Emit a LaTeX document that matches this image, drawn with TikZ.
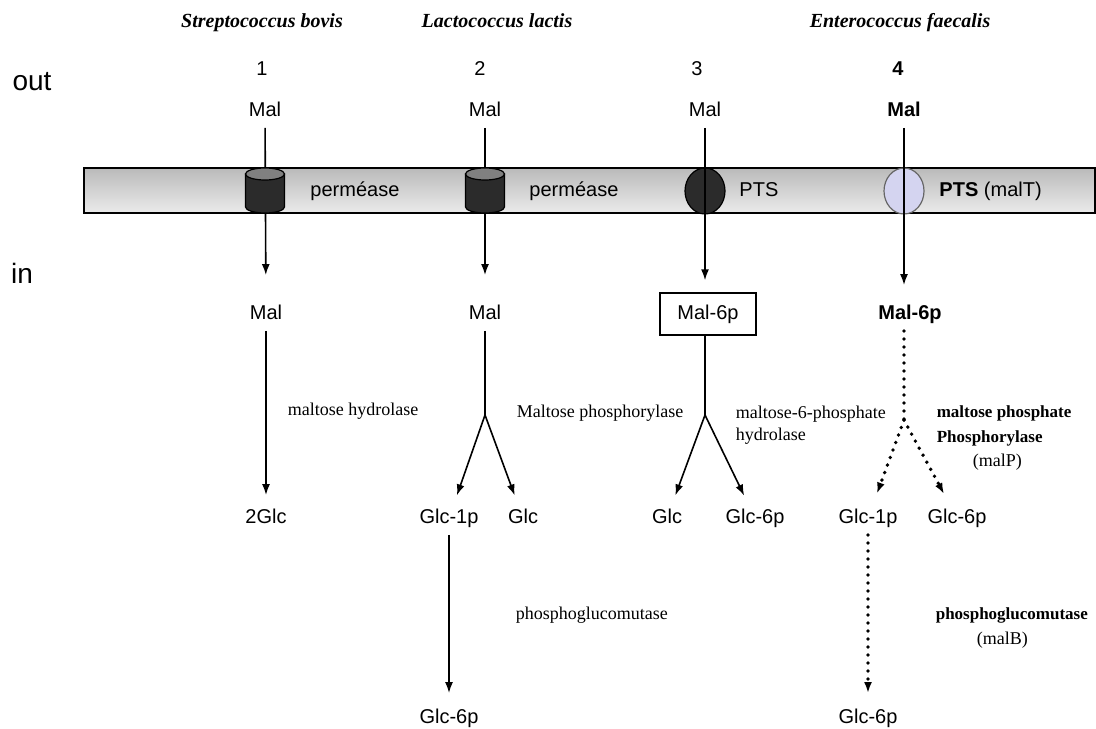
\documentclass[tikz,border=0pt]{standalone}
\usepackage{fontspec}
\setmainfont{Liberation Serif}
\setsansfont{Liberation Sans}
\usetikzlibrary{arrows.meta, shapes.geometric}
\definecolor{ptsblue}{RGB}{212,212,240}

\begin{document}
\begin{tikzpicture}[x=0.5pt,y=-0.5pt,>={Latex[length=5.5pt,width=4pt]},thick,
  chem/.style={font=\sffamily\fontsize{10}{12}\selectfont,text height=7.5pt,text depth=2pt},
  species/.style={font=\rmfamily\bfseries\itshape\fontsize{10}{12}\selectfont,text height=7pt,text depth=2pt},
  enzyme/.style={font=\rmfamily\fontsize{9}{11}\selectfont,anchor=west,align=left,inner sep=0pt},
  benzyme/.style={enzyme,font=\rmfamily\bfseries\fontsize{8.5}{11}\selectfont},
  side/.style={font=\sffamily\fontsize{14}{16}\selectfont},
  dots/.style={dash pattern=on 0pt off 4pt,line cap=round,line width=1.9pt},
  pts/.style={ellipse,draw,line width=0.6pt,minimum width=20pt,minimum height=23pt,inner sep=0pt}]

  \useasboundingbox (0,0) rectangle (1096,728);

  % membrane
  \shadedraw[top color=black!27,bottom color=black!8,line width=0.7pt] (84,168) rectangle (1095,213);

  \node[side] (out) at (32,82) {out};
  \node[side] (in) at (22,273) {in};

  \node[species] (sp1) at (262,22) {Streptococcus bovis};
  \node[species] (sp2) at (497,22) {Lactococcus lactis};
  \node[species] (sp3) at (900,22) {Enterococcus faecalis};

  \node[chem] (n1) at (262,70) {1};
  \node[chem] (n2) at (480,70) {2};
  \node[chem] (n3) at (697,70) {3};
  \node[chem,font=\sffamily\bfseries\fontsize{10}{12}\selectfont] (n4) at (898,70) {4};

  % outside
  \node[chem] (mal1) at (265,111) {Mal};
  \node[chem] (mal2) at (485,111) {Mal};
  \node[chem] (mal3) at (705,111) {Mal};
  \node[chem,font=\sffamily\bfseries\fontsize{10}{12}\selectfont] (mal4) at (904,111) {Mal};

  % inside
  \node[chem] (in1) at (266,314) {Mal};
  \node[chem] (in2) at (485,314) {Mal};
  \node[chem,draw,line width=0.7pt,minimum width=48pt,minimum height=21pt] (in3) at (708,314) {Mal-6p};
  \node[chem,font=\sffamily\bfseries\fontsize{10}{12}\selectfont] (in4) at (910,314) {Mal-6p};

  \node[chem] (glc1) at (266,518) {2Glc};
  \node[chem] (g1p2) at (449,518) {Glc-1p};
  \node[chem] (glc2) at (523,518) {Glc};
  \node[chem] (glc3) at (667,518) {Glc};
  \node[chem] (g6p3) at (755,518) {Glc-6p};
  \node[chem] (g1p4) at (868,518) {Glc-1p};
  \node[chem] (g6p4) at (957,518) {Glc-6p};
  \node[chem] (g6p2) at (449,718) {Glc-6p};
  \node[chem] (g6p5) at (868,718) {Glc-6p};

  \coordinate (j2) at (485,415);
  \coordinate (j3) at (705,415);
  \coordinate (j4) at (904,420);

  % carriers
  \node[pts,fill=black!83] (pts3) at (705,191) {};
  \node[pts,draw=black!60,fill=ptsblue] (pts4) at (904,191) {};

  \draw[->,shorten >=11pt] (mal1) -- (in1);
  \draw[->,shorten >=11pt] (mal2) -- (in2);
  \draw[->,shorten >=6pt] (mal3.south) -- (mal3.south |- in3.north);
  \draw[->,shorten >=6pt] (mal4.south) -- (mal4.south |- in4.north);

  % permeases
  \foreach \x in {265,485} {
    \filldraw[fill=black!83,line width=0.6pt] (\x-19.5,174) -- (\x-19.5,207)
      arc[start angle=180,end angle=0,x radius=19.5,y radius=6] -- (\x+19.5,174) -- cycle;
    \filldraw[fill=black!50,line width=0.6pt] (\x,174) ellipse[x radius=19.5,y radius=6];
  }

  \node[chem,anchor=west] (lab1) at (303,191) {perméase};
  \node[chem,anchor=west] (lab2) at (522,191) {perméase};
  \node[chem,anchor=west] (lab3) at (732,191) {PTS};
  \node[chem,anchor=west] (lab4) at (932,191) {\textbf{PTS} (malT)};

  % reactions
  \draw[->,shorten >=3pt] (in1) -- (glc1);
  \draw (in2) -- (j2);
  \draw[->,shorten >=3pt] (j2) -- (g1p2);
  \draw[->,shorten >=3pt] (j2) -- (glc2);
  \draw (in3.south -| j3) -- (j3);
  \draw[->,shorten >=3pt] (j3) -- (glc3);
  \draw[->,shorten >=3pt] (j3) -- (g6p3);
  \draw[dots] (in4.south -| j4) -- (j4);
  \draw[->,dots,shorten >=4pt] (j4) -- (g1p4);
  \draw[->,dots,shorten >=4pt] (j4) -- (g6p4);
  \draw[->,shorten >=4pt] (g1p2) -- (g6p2);
  \draw[->,dots,shorten >=4pt] (g1p4) -- (g6p5);

  \node[enzyme] (e1) at (287,411) {maltose hydrolase};
  \node[enzyme] (e2) at (516,413) {Maltose phosphorylase};
  \node[enzyme] (e3) at (735,425) {maltose-6-phosphate\\hydrolase};
  \node[benzyme] (e4) at (936,413) {maltose phosphate};
  \node[benzyme] (e4b) at (936,438) {Phosphorylase};
  \node[enzyme] (e4c) at (972,462) {(malP)};
  \node[enzyme] (e5) at (515,615) {phosphoglucomutase};
  \node[benzyme] (e6) at (935,615) {phosphoglucomutase};
  \node[enzyme] (e6b) at (976,640) {(malB)};
\end{tikzpicture}
\end{document}
